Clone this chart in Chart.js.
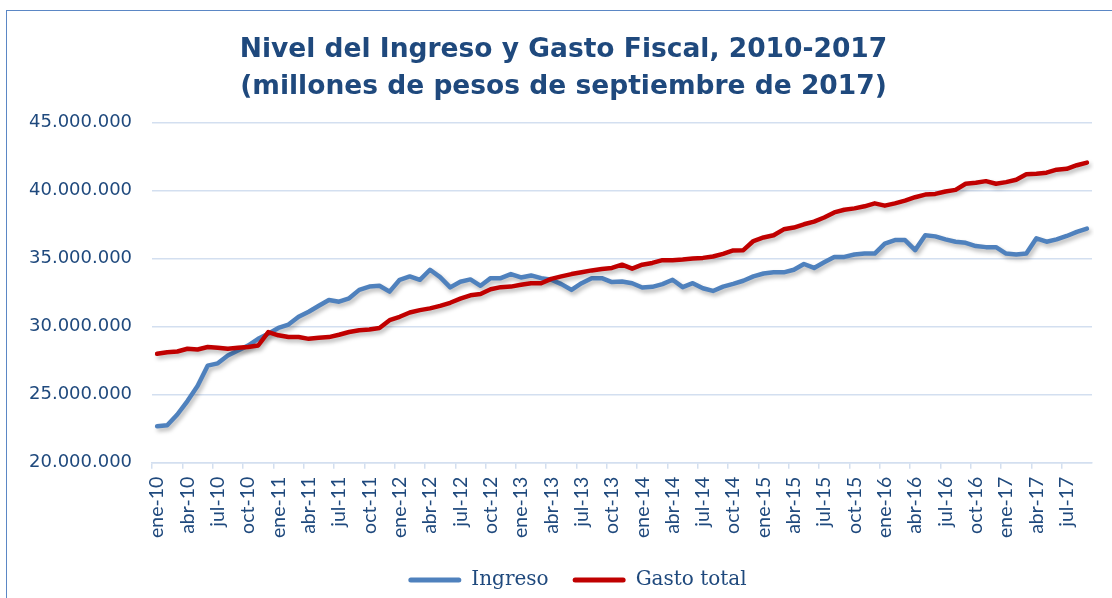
<!DOCTYPE html>
<html><head><meta charset="utf-8">
<script src="https://cdn.jsdelivr.net/npm/chart.js@4.4.1/dist/chart.umd.min.js"></script>
<style>
html,body{margin:0;padding:0;background:#fff;overflow:hidden;}
#wrap{position:relative;width:1112px;height:598px;overflow:hidden;}
#frame{position:absolute;left:6px;top:10px;width:1200px;height:700px;border:1.5px solid #5b87c5;box-sizing:border-box;}
canvas{position:absolute;left:0;top:0;}
</style></head><body>
<div id="wrap"><div id="frame"></div><canvas id="c" width="1112" height="598"></canvas></div>
<script>
const tituloLineas = ['Nivel del Ingreso y Gasto Fiscal, 2010-2017', '(millones de pesos de septiembre de 2017)'];
const serieNombres = ['Ingreso', 'Gasto total'];
const categorias = [
 'ene-10','feb-10','mar-10','abr-10','may-10','jun-10','jul-10','ago-10','sep-10','oct-10','nov-10','dic-10',
 'ene-11','feb-11','mar-11','abr-11','may-11','jun-11','jul-11','ago-11','sep-11','oct-11','nov-11','dic-11',
 'ene-12','feb-12','mar-12','abr-12','may-12','jun-12','jul-12','ago-12','sep-12','oct-12','nov-12','dic-12',
 'ene-13','feb-13','mar-13','abr-13','may-13','jun-13','jul-13','ago-13','sep-13','oct-13','nov-13','dic-13',
 'ene-14','feb-14','mar-14','abr-14','may-14','jun-14','jul-14','ago-14','sep-14','oct-14','nov-14','dic-14',
 'ene-15','feb-15','mar-15','abr-15','may-15','jun-15','jul-15','ago-15','sep-15','oct-15','nov-15','dic-15',
 'ene-16','feb-16','mar-16','abr-16','may-16','jun-16','jul-16','ago-16','sep-16','oct-16','nov-16','dic-16',
 'ene-17','feb-17','mar-17','abr-17','may-17','jun-17','jul-17','ago-17','sep-17'
];
const ingreso = [
 22670000,22750000,23540000,24530000,25640000,27130000,27300000,27870000,28240000,28600000,29100000,29480000,
 29900000,30150000,30720000,31090000,31530000,31960000,31830000,32080000,32700000,32940000,33000000,32570000,
 33440000,33690000,33440000,34180000,33640000,32880000,33300000,33470000,33000000,33560000,33560000,33860000,
 33610000,33760000,33560000,33440000,33120000,32700000,33190000,33560000,33560000,33270000,33320000,33190000,
 32870000,32920000,33120000,33440000,32900000,33190000,32820000,32620000,32940000,33140000,33370000,33690000,
 33900000,33990000,33990000,34180000,34600000,34310000,34730000,35120000,35120000,35300000,35370000,35370000,
 36090000,36360000,36360000,35620000,36710000,36630000,36410000,36240000,36160000,35920000,35840000,35840000,
 35370000,35300000,35370000,36490000,36240000,36410000,36660000,36960000,37200000
];
const gastoTotal = [
 28000000,28120000,28170000,28370000,28320000,28500000,28440000,28370000,28440000,28500000,28610000,29600000,
 29360000,29230000,29230000,29100000,29180000,29230000,29400000,29600000,29730000,29780000,29900000,30470000,
 30720000,31040000,31210000,31340000,31520000,31750000,32050000,32300000,32400000,32750000,32900000,32940000,
 33070000,33190000,33190000,33510000,33690000,33860000,34000000,34130000,34230000,34310000,34550000,34260000,
 34550000,34680000,34880000,34880000,34930000,35000000,35050000,35150000,35350000,35600000,35620000,36290000,
 36550000,36710000,37150000,37280000,37520000,37720000,38020000,38390000,38590000,38690000,38840000,39060000,
 38890000,39060000,39260000,39510000,39700000,39750000,39930000,40050000,40500000,40570000,40690000,40500000,
 40620000,40790000,41190000,41240000,41310000,41530000,41600000,41860000,42050000
];
const ejeYMin = 20000000, ejeYMax = 45000000, ejeYPaso = 5000000;

const azul = '#4F81BD', rojo = '#C00000', textoColor = '#1F497D', gridColor = '#D3DFF0';

function fmtMiles(v){ return String(Math.round(v)).replace(/\B(?=(\d{3})+(?!\d))/g, '.'); }

const shadowPlugin = {
  id: 'shadow',
  beforeDatasetsDraw(chart){ const c = chart.ctx; c.save(); c.shadowColor='rgba(0,0,0,0.28)'; c.shadowBlur=4; c.shadowOffsetX=2; c.shadowOffsetY=3; },
  afterDatasetsDraw(chart){ chart.ctx.restore(); }
};
const shiftPlugin = {
  id: 'shift',
  afterLayout(chart){
    if (chart.titleBlock){ chart.titleBlock.left += 13; chart.titleBlock.right += 13; }
    if (chart.legend){ chart.legend.left += 27; chart.legend.right += 27; }
  }
};

new Chart(document.getElementById('c'), {
  type: 'line',
  data: {
    labels: categorias,
    datasets: [
      { label: serieNombres[0], data: ingreso, borderColor: azul, backgroundColor: azul, borderWidth: 4.5,
        pointRadius: 0, tension: 0, borderJoinStyle: 'round', borderCapStyle: 'round', order: 1 },
      { label: serieNombres[1], data: gastoTotal, borderColor: rojo, backgroundColor: rojo, borderWidth: 4.5,
        pointRadius: 0, tension: 0, borderJoinStyle: 'round', borderCapStyle: 'round', order: 0 }
    ]
  },
  plugins: [shadowPlugin, shiftPlugin],
  options: {
    responsive: false, animation: false, devicePixelRatio: 1,
    layout: { padding: { left: 9, right: 20, top: 13, bottom: 0 } },
    plugins: {
      tooltip: { enabled: false },
      title: { display: true, text: tituloLineas, color: textoColor,
        font: { family: 'DejaVu Sans', size: 26.5, weight: 'bold', lineHeight: '37px' },
        padding: { top: 19, bottom: 16.5 } },
      legend: { position: 'bottom', maxHeight: 52,
        labels: { font: { family: 'DejaVu Serif', size: 20 }, color: textoColor, boxWidth: 53, boxHeight: 5, padding: 24,
          useBorderRadius: true, borderRadius: 2.5,
          sort: (a, b) => a.datasetIndex - b.datasetIndex,
          generateLabels(chart){
            const items = Chart.defaults.plugins.legend.labels.generateLabels(chart);
            items.forEach(it => { it.lineWidth = 0; });
            return items;
          } } }
    },
    scales: {
      x: { type: 'category', offset: true,
        afterFit(scale){ scale.paddingRight = 0; },
        grid: { offset: true, drawOnChartArea: false, drawTicks: true, tickLength: 6, lineWidth: 1.5,
          color: c => (c.index % 3 === 0 ? gridColor : 'rgba(0,0,0,0)') },
        border: { display: true, color: gridColor, width: 1.5 },
        ticks: { autoSkip: false, minRotation: 90, maxRotation: 90, padding: 8, color: textoColor,
          font: { family: 'Lato', size: 19.5 },
          callback: (v, i) => (i % 3 === 0 ? categorias[i] : '') } },
      y: { min: ejeYMin, max: ejeYMax,
        grid: { color: gridColor, lineWidth: 1.5, drawTicks: false },
        border: { display: false },
        ticks: { stepSize: ejeYPaso, padding: 20, color: textoColor, font: { family: 'DejaVu Sans', size: 18 },
          callback: v => fmtMiles(v) } }
    }
  }
});
</script>
</body></html>
